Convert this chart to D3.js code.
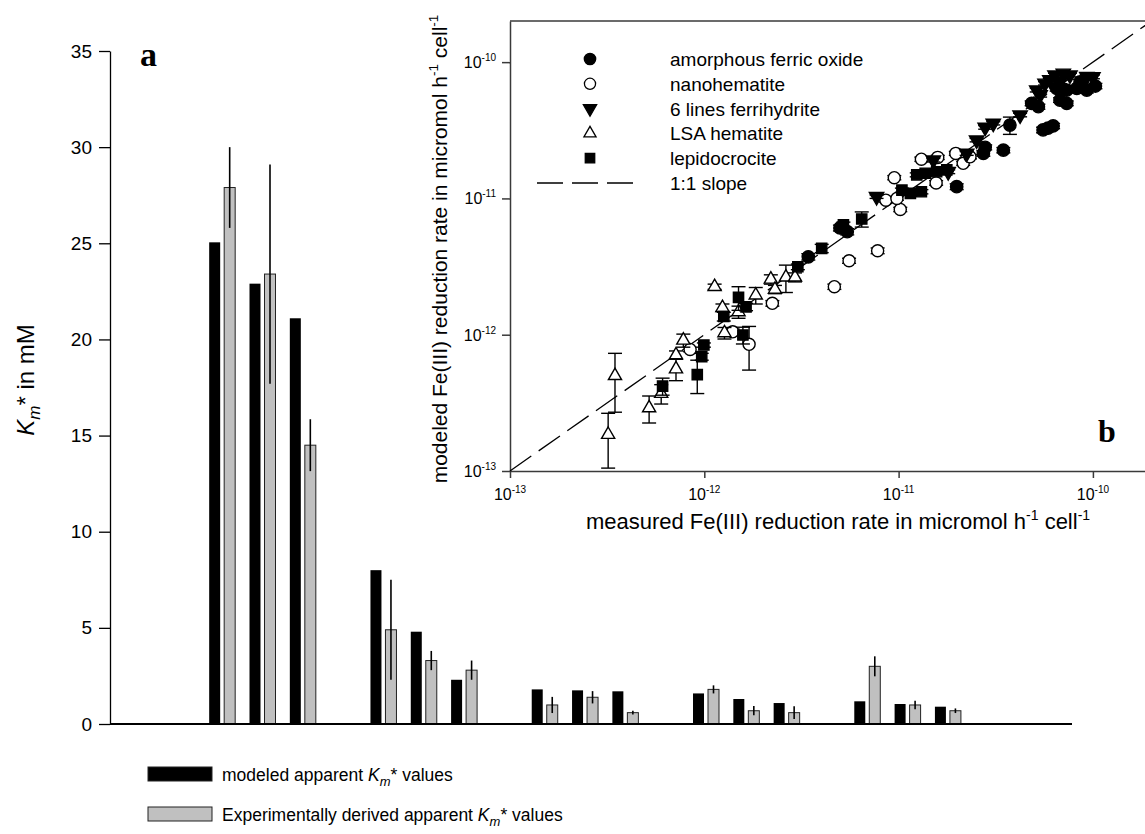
<!DOCTYPE html>
<html>
<head>
<meta charset="utf-8">
<script src="https://cdn.jsdelivr.net/npm/d3@7"></script>
<style>
  body { margin: 0; background: #fff; }
  svg { display: block; font-family: "Liberation Sans", Arial, sans-serif; }
</style>
</head>
<body>
<svg id="chart" width="1145" height="834"></svg>
<script>
// ---- panel a: bar data (15 bars in 5 groups of 3, empty slot between groups) ----
var barSlots = [0, 1, 2, 4, 5, 6, 8, 9, 10, 12, 13, 14, 16, 17, 18];
var modeledKm = [25.05, 22.9, 21.1, 8.0, 4.8, 2.3, 1.8, 1.75, 1.7, 1.59, 1.3, 1.09, 1.18, 1.04, 0.9];
var experimentalKm = [27.9, 23.4, 14.5, 4.9, 3.3, 2.8, 0.99, 1.39, 0.59, 1.8, 0.69, 0.59, 3.0, 0.99, 0.69];
var experimentalErr = [2.1, 5.7, 1.35, 2.6, 0.5, 0.5, 0.42, 0.32, 0.1, 0.21, 0.24, 0.33, 0.52, 0.22, 0.12];
var kmTicks = [0, 5, 10, 15, 20, 25, 30, 35];

// ---- panel b: [measured, modeled, error] in micromol h-1 cell-1 ----
var amorphousFerricOxide = [
  [3.43e-12, 3.73e-12, 0.2e-12], [4.99e-12, 6.07e-12, 0.3e-12], [5.44e-12, 5.7e-12, 0.3e-12],
  [1.99e-11, 1.22e-11, 0.06e-11], [2.73e-11, 2.14e-11, 0.1e-11], [2.79e-11, 2.37e-11, 0.1e-11],
  [3.46e-11, 2.26e-11, 0.1e-11], [3.74e-11, 3.45e-11, 0.5e-11], [5.54e-11, 3.18e-11, 0.15e-11],
  [5.87e-11, 3.28e-11, 0.15e-11], [6.24e-11, 3.4e-11, 0.15e-11], [4.84e-11, 4.99e-11, 0.2e-11],
  [5.24e-11, 4.71e-11, 0.2e-11], [6.51e-11, 6.43e-11, 0.3e-11], [7.33e-11, 6.24e-11, 0.3e-11],
  [8.26e-11, 6.43e-11, 0.3e-11], [9.3e-11, 6.24e-11, 0.3e-11], [7.33e-11, 4.99e-11, 0.2e-11],
  [6.77e-11, 5.27e-11, 0.2e-11], [1.03e-10, 6.68e-11, 0.3e-11], [8.59e-11, 7.15e-11, 0.3e-11]
];
var nanohematite = [
  [8.45e-13, 7.8e-13, 0.3e-13], [1.4e-12, 1.05e-12, 0.05e-12], [1.7e-12, 8.5e-13, 3e-13],
  [2.24e-12, 1.7e-12, 0.08e-12], [4.67e-12, 2.25e-12, 0.1e-12], [5.56e-12, 3.49e-12, 0.15e-12],
  [7.8e-12, 4.13e-12, 0.2e-12], [1.02e-11, 8.3e-12, 0.3e-12], [9.5e-12, 1.42e-11, 0.05e-11],
  [8.6e-12, 9.7e-12, 0.3e-12], [9.8e-12, 1.0e-11, 0.03e-11], [1.31e-11, 1.94e-11, 0.07e-11],
  [1.56e-11, 1.3e-11, 0.05e-11], [1.59e-11, 2.0e-11, 0.07e-11], [1.97e-11, 2.14e-11, 0.07e-11],
  [2.15e-11, 1.81e-11, 0.06e-11], [2.33e-11, 2.02e-11, 0.07e-11]
];
var ferrihydrite6L = [
  [7.7e-12, 1.03e-11, 0.03e-11], [1.51e-11, 1.91e-11, 0.06e-11], [1.8e-11, 1.57e-11, 0.05e-11],
  [2.24e-11, 2.14e-11, 0.07e-11], [2.52e-11, 2.68e-11, 0.08e-11], [2.79e-11, 3.32e-11, 0.1e-11],
  [3.07e-11, 3.56e-11, 0.1e-11], [4.22e-11, 4.09e-11, 0.12e-11], [5.14e-11, 6.24e-11, 0.2e-11],
  [5.67e-11, 6.99e-11, 0.2e-11], [6.38e-11, 8.04e-11, 0.25e-11], [7.04e-11, 8.28e-11, 0.25e-11],
  [7.62e-11, 8.04e-11, 0.25e-11], [9.3e-11, 7.82e-11, 0.25e-11], [1.0e-10, 7.8e-11, 0.25e-11],
  [6.0e-11, 7.4e-11, 0.2e-11], [5.35e-11, 5.74e-11, 0.2e-11], [6.77e-11, 7.15e-11, 0.2e-11]
];
var lsaHematite = [
  [3.2e-13, 1.85e-13, 0.8e-13], [3.47e-13, 5.0e-13, 2.3e-13], [5.2e-13, 2.9e-13, 0.65e-13],
  [6.0e-13, 3.7e-13, 0.6e-13], [7.15e-13, 5.6e-13, 1.0e-13], [7.15e-13, 7.1e-13, 0.5e-13],
  [7.8e-13, 9.1e-13, 1.0e-13], [1.13e-12, 2.25e-12, 0.1e-12], [1.24e-12, 1.58e-12, 0.1e-12],
  [1.27e-12, 1.03e-12, 0.1e-12], [1.5e-12, 1.47e-12, 0.15e-12], [1.84e-12, 1.95e-12, 0.27e-12],
  [2.2e-12, 2.55e-12, 0.2e-12], [2.31e-12, 2.15e-12, 0.15e-12], [2.63e-12, 2.64e-12, 0.6e-12],
  [2.93e-12, 2.64e-12, 0.2e-12]
];
var lepidocrocite = [
  [6.1e-13, 4.2e-13, 0.6e-13], [9.2e-13, 5.1e-13, 1.4e-13], [9.7e-13, 6.9e-13, 0.4e-13],
  [9.95e-13, 8.4e-13, 0.3e-13], [1.26e-12, 1.36e-12, 0.1e-12], [1.5e-12, 1.88e-12, 0.37e-12],
  [1.64e-12, 1.6e-12, 0.1e-12], [1.58e-12, 9.95e-13, 1.4e-13], [3.03e-12, 3.15e-12, 0.15e-12],
  [4.02e-12, 4.3e-12, 0.3e-12], [6.46e-12, 7.06e-12, 0.9e-12], [5.2e-12, 6.4e-12, 0.3e-12],
  [1.04e-11, 1.15e-11, 0.04e-11], [1.15e-11, 1.09e-11, 0.04e-11], [1.31e-11, 1.12e-11, 0.04e-11],
  [1.24e-11, 1.49e-11, 0.05e-11], [1.37e-11, 1.53e-11, 0.05e-11], [1.57e-11, 1.57e-11, 0.05e-11],
  [1.77e-11, 1.62e-11, 0.05e-11]
];
var rateTicks = [1e-13, 1e-12, 1e-11, 1e-10];
var rateTickExp = ["-13", "-12", "-11", "-10"];
var slopeLine = [1e-13, 2e-10];

var svg = d3.select("#chart");

// ================= panel a =================
var x = d3.scaleLinear().domain([-2.46, 21.4]).range([110, 1072]);
var y = d3.scaleLinear().domain([0, 35]).range([724, 51]);
var barW = 11, grayOff = 15;

var ga = svg.append("g");

ga.selectAll(".bar-mod")
  .data(modeledKm)
  .enter().append("rect")
  .attr("x", function(d, i) { return x(barSlots[i]); })
  .attr("y", function(d) { return y(d); })
  .attr("width", barW)
  .attr("height", function(d) { return y(0) - y(d); })
  .attr("fill", "#000");

ga.selectAll(".bar-exp")
  .data(experimentalKm)
  .enter().append("rect")
  .attr("x", function(d, i) { return x(barSlots[i]) + grayOff; })
  .attr("y", function(d) { return y(d); })
  .attr("width", barW)
  .attr("height", function(d) { return y(0) - y(d); })
  .attr("fill", "#c0c0c0")
  .attr("stroke", "#222")
  .attr("stroke-width", 1);

ga.selectAll(".err-exp")
  .data(experimentalKm)
  .enter().append("line")
  .attr("x1", function(d, i) { return x(barSlots[i]) + grayOff + barW / 2; })
  .attr("x2", function(d, i) { return x(barSlots[i]) + grayOff + barW / 2; })
  .attr("y1", function(d, i) { return y(d - experimentalErr[i]); })
  .attr("y2", function(d, i) { return y(d + experimentalErr[i]); })
  .attr("stroke", "#000")
  .attr("stroke-width", 1.6);

// y axis
var yAxis = d3.axisLeft(y).tickValues(kmTicks).tickSize(11).tickSizeOuter(0).tickPadding(7);
ga.append("g")
  .attr("transform", "translate(110,0)")
  .call(yAxis)
  .call(function(g) {
    g.selectAll("text").attr("font-size", 19).attr("fill", "#000").attr("font-family", "Liberation Sans, Arial");
    g.selectAll("line").attr("stroke", "#000").attr("stroke-width", 1.3);
    g.select(".domain").attr("stroke", "#000").attr("stroke-width", 1.3);
  });

// x axis line
ga.append("line")
  .attr("x1", x.range()[0]).attr("x2", x.range()[1])
  .attr("y1", y(0)).attr("y2", y(0))
  .attr("stroke", "#000").attr("stroke-width", 2);

// y title
var yt = ga.append("text")
  .attr("transform", "translate(34,380) rotate(-90)")
  .attr("text-anchor", "middle")
  .attr("font-size", 24);
yt.append("tspan").attr("font-style", "italic").text("K");
yt.append("tspan").attr("font-style", "italic").attr("font-size", 17).attr("dy", 6).text("m");
yt.append("tspan").attr("dy", -6).text("* in mM");

ga.append("text")
  .attr("x", 140).attr("y", 66)
  .attr("font-family", "Liberation Serif, Times New Roman, serif")
  .attr("font-weight", "bold")
  .attr("font-size", 34)
  .text("a");

// legend
var barLegend = [
  {fill: "#000", label: "modeled apparent "},
  {fill: "#c0c0c0", label: "Experimentally derived apparent "}
];
var lg = ga.selectAll(".leg")
  .data(barLegend)
  .enter().append("g")
  .attr("transform", function(d, i) { return "translate(148," + (767 + i * 40) + ")"; });
lg.append("rect")
  .attr("width", 64).attr("height", 14)
  .attr("fill", function(d) { return d.fill; })
  .attr("stroke", "#222").attr("stroke-width", 1);
var lt = lg.append("text")
  .attr("x", 74).attr("y", 14)
  .attr("font-size", 17.5);
lt.append("tspan").text(function(d) { return d.label; });
lt.append("tspan").attr("font-style", "italic").text("K");
lt.append("tspan").attr("font-style", "italic").attr("font-size", 13).attr("dy", 5).text("m");
lt.append("tspan").attr("dy", -5).text("* values");

// ================= panel b =================
var xr = d3.scaleLog().domain([1e-13, 2e-10]).range([510, 1151.4]);
var yr = d3.scaleLog().domain([1e-13, 2e-10]).range([471, 21.1]);
var gb = svg.append("g");
var axisCol = "#3a3a3a";

// top border
gb.append("line").attr("x1", xr.range()[0]).attr("x2", xr.range()[1])
  .attr("y1", yr.range()[1]).attr("y2", yr.range()[1])
  .attr("stroke", axisCol).attr("stroke-width", 1.5);

gb.append("g")
  .attr("transform", "translate(0,471)")
  .call(d3.axisBottom(xr).tickValues(rateTicks).tickFormat("").tickSize(7).tickSizeOuter(0))
  .call(function(g) {
    g.selectAll("line").attr("stroke", axisCol).attr("stroke-width", 1.5);
    g.select(".domain").attr("stroke", axisCol).attr("stroke-width", 1.5);
  });
gb.append("g")
  .attr("transform", "translate(510,0)")
  .call(d3.axisLeft(yr).tickValues(rateTicks).tickFormat("").tickSize(8).tickSizeOuter(0))
  .call(function(g) {
    g.selectAll("line").attr("stroke", axisCol).attr("stroke-width", 1.5);
    g.select(".domain").attr("stroke", axisCol).attr("stroke-width", 1.5);
  });

// tick labels with superscripts
var xl = gb.selectAll(".xlab").data(rateTicks).enter().append("text")
  .attr("x", function(d) { return xr(d); })
  .attr("y", 500)
  .attr("text-anchor", "middle")
  .attr("font-size", 16);
xl.append("tspan").text("10");
xl.append("tspan").attr("font-size", 10).attr("dy", -7).text(function(d, i) { return rateTickExp[i]; });

var yl = gb.selectAll(".ylab").data(rateTicks).enter().append("text")
  .attr("x", 496)
  .attr("y", function(d) { return yr(d) + 6; })
  .attr("text-anchor", "end")
  .attr("font-size", 16);
yl.append("tspan").text("10");
yl.append("tspan").attr("font-size", 10).attr("dy", -7).text(function(d, i) { return rateTickExp[i]; });

// axis titles
var xtb = gb.append("text")
  .attr("x", 838).attr("y", 529)
  .attr("text-anchor", "middle")
  .attr("font-size", 22);
xtb.append("tspan").text("measured Fe(III) reduction rate in micromol h");
xtb.append("tspan").attr("font-size", 14).attr("dy", -9).text("-1");
xtb.append("tspan").attr("dy", 9).text(" cell");
xtb.append("tspan").attr("font-size", 14).attr("dy", -9).text("-1");

var ytb = gb.append("text")
  .attr("transform", "translate(447,249) rotate(-90)")
  .attr("text-anchor", "middle")
  .attr("font-size", 21);
ytb.append("tspan").text("modeled Fe(III) reduction rate in micromol h");
ytb.append("tspan").attr("font-size", 13.5).attr("dy", -9).text("-1");
ytb.append("tspan").attr("dy", 9).text(" cell");
ytb.append("tspan").attr("font-size", 13.5).attr("dy", -9).text("-1");

// 1:1 line
gb.append("line")
  .attr("x1", xr(slopeLine[0])).attr("y1", yr(slopeLine[0]))
  .attr("x2", xr(slopeLine[1])).attr("y2", yr(slopeLine[1]))
  .attr("stroke", "#000").attr("stroke-width", 1.3)
  .attr("stroke-dasharray", "26,9");

var series = [
  {name: "amorphous ferric oxide", data: amorphousFerricOxide, type: d3.symbolCircle, size: 120, fill: "#000", rot: 0},
  {name: "nanohematite", data: nanohematite, type: d3.symbolCircle, size: 115, fill: "#fff", rot: 0},
  {name: "6 lines ferrihydrite", data: ferrihydrite6L, type: d3.symbolTriangle, size: 90, fill: "#000", rot: 180},
  {name: "LSA hematite", data: lsaHematite, type: d3.symbolTriangle, size: 75, fill: "#fff", rot: 0},
  {name: "lepidocrocite", data: lepidocrocite, type: d3.symbolSquare, size: 105, fill: "#000", rot: 0}
];

series.forEach(function(s) {
  var g = gb.append("g");
  var eb = g.selectAll(".eb").data(s.data).enter().append("g");
  eb.append("line")
    .attr("x1", function(d) { return xr(d[0]); })
    .attr("x2", function(d) { return xr(d[0]); })
    .attr("y1", function(d) { return yr(d[1] - d[2]); })
    .attr("y2", function(d) { return yr(d[1] + d[2]); })
    .attr("stroke", "#000").attr("stroke-width", 1.4);
  [-1, 1].forEach(function(sg) {
    eb.append("line")
      .attr("x1", function(d) { return xr(d[0]) - 7; })
      .attr("x2", function(d) { return xr(d[0]) + 7; })
      .attr("y1", function(d) { return yr(d[1] + sg * d[2]); })
      .attr("y2", function(d) { return yr(d[1] + sg * d[2]); })
      .attr("stroke", "#000").attr("stroke-width", 1.4);
  });
  g.selectAll(".pt").data(s.data).enter().append("path")
    .attr("d", d3.symbol().type(s.type).size(s.size))
    .attr("transform", function(d) { return "translate(" + xr(d[0]) + "," + yr(d[1]) + ") rotate(" + s.rot + ")"; })
    .attr("fill", s.fill)
    .attr("stroke", "#000").attr("stroke-width", 1.4);
});

// scatter legend
var sl = gb.selectAll(".sleg").data(series).enter().append("g")
  .attr("transform", function(d, i) { return "translate(590," + (59 + i * 24.8) + ")"; });
sl.append("path")
  .attr("d", function(d) { return d3.symbol().type(d.type).size(d.size * 0.85)(); })
  .attr("transform", function(d) { return "rotate(" + d.rot + ")"; })
  .attr("fill", function(d) { return d.fill; })
  .attr("stroke", "#000").attr("stroke-width", 1.3);
sl.append("text")
  .attr("x", 80).attr("y", 7)
  .attr("font-size", 19)
  .text(function(d) { return d.name; });

var slopeY = 59 + 5 * 24.8;
gb.append("line")
  .attr("x1", 537).attr("x2", 633)
  .attr("y1", slopeY).attr("y2", slopeY)
  .attr("stroke", "#000").attr("stroke-width", 1.3)
  .attr("stroke-dasharray", "26,9");
gb.append("text")
  .attr("x", 670).attr("y", slopeY + 7)
  .attr("font-size", 19)
  .text("1:1 slope");

gb.append("text")
  .attr("x", 1098).attr("y", 442)
  .attr("font-family", "Liberation Serif, Times New Roman, serif")
  .attr("font-weight", "bold")
  .attr("font-size", 32)
  .text("b");
</script>
</body>
</html>
